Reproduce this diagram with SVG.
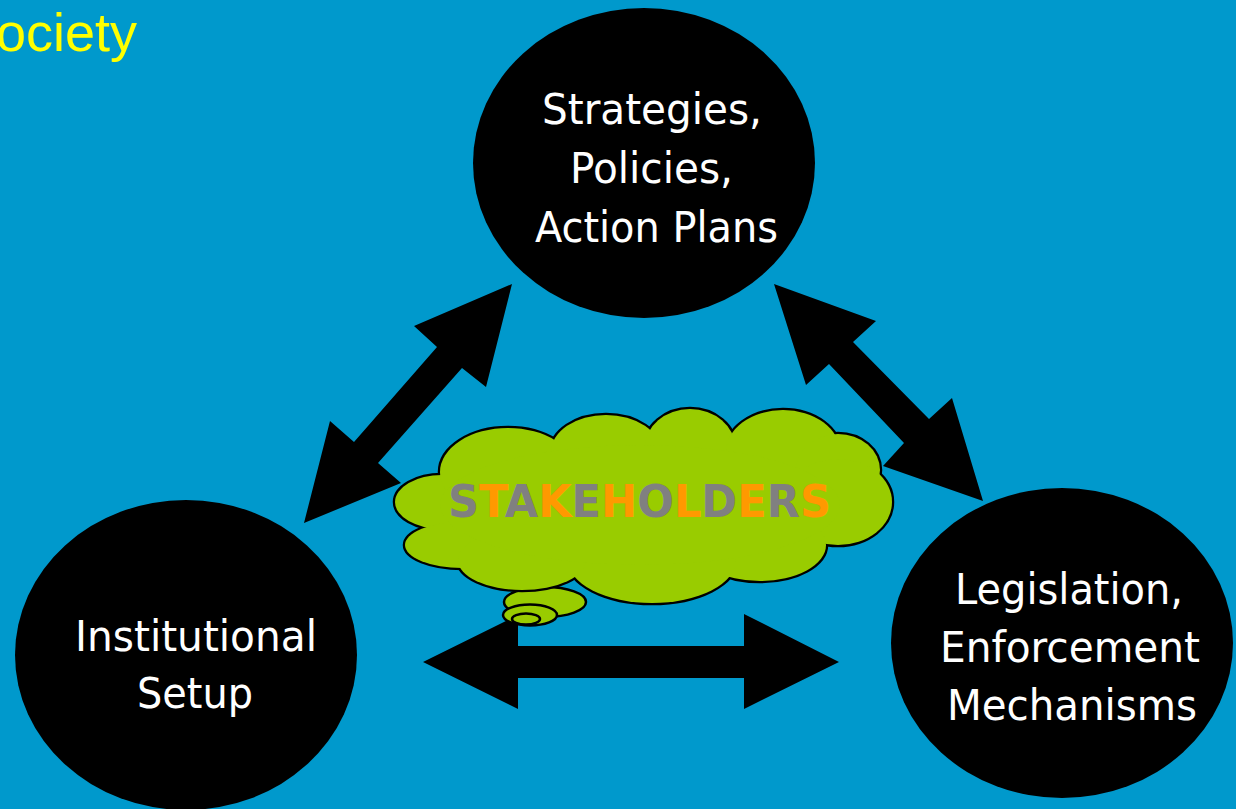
<svg xmlns="http://www.w3.org/2000/svg" xmlns:xlink="http://www.w3.org/1999/xlink" width="1236" height="809" viewBox="0 0 1236 809">
<style>
.bg{fill:#0099cc}
.arrow{fill:#000}
.node{fill:#000}
.lbl{fill:#fff;font-family:"DejaVu Sans Condensed","DejaVu Sans",sans-serif;font-stretch:condensed;font-size:43px}
.title{fill:#ffff00;font-family:"Liberation Sans",Arial,sans-serif;font-size:54px}
.cloudS{fill:#99cc00;stroke:#000;stroke-width:4.5}
.cloudF{fill:#99cc00;stroke:none}
.bub{fill:#99cc00;stroke:#000;stroke-width:2.5}
.stk{font-family:"DejaVu Sans Condensed","DejaVu Sans",sans-serif;font-stretch:condensed;font-weight:bold;font-size:45px}
.g{fill:#808080}.o{fill:#ff9900}
</style>
<defs>
<g id="lobes">
<ellipse cx="442" cy="502" rx="47" ry="27"/>
<ellipse cx="462" cy="545" rx="57" ry="23"/>
<ellipse cx="508" cy="472" rx="68" ry="44"/>
<ellipse cx="606" cy="452" rx="55" ry="37"/>
<ellipse cx="690" cy="447" rx="45" ry="38"/>
<ellipse cx="783" cy="452" rx="57" ry="42"/>
<ellipse cx="838" cy="470" rx="42" ry="36"/>
<ellipse cx="838" cy="502" rx="54" ry="43"/>
<ellipse cx="760" cy="545" rx="66" ry="36"/>
<ellipse cx="652" cy="560" rx="84" ry="43"/>
<ellipse cx="522" cy="560" rx="64" ry="30"/>
<ellipse cx="640" cy="505" rx="200" ry="60"/>
</g>
</defs>
<rect class="bg" x="0" y="0" width="1236" height="809"/>
<text class="title" x="-4" y="51">ociety</text>
<g id="connectors">
<polygon class="arrow" points="512,284 486,387 462,368 378,463 401,483 304,523 330,421 354,442 437,347 414,326"/>
<polygon class="arrow" points="774,284 876,321 853,342 929,419 952,398 983,501 883,466 904,443 829,364 806,385"/>
<polygon class="arrow" points="423,662 518,615 518,646 744,646 744,614 839,662 744,709 744,678 518,678 518,709"/>
</g>
<g id="node-strategies">
<ellipse class="node" cx="644" cy="163" rx="171" ry="155"/>
<text class="lbl" x="542" y="124" textLength="220" lengthAdjust="spacingAndGlyphs">Strategies,</text>
<text class="lbl" x="570" y="183" textLength="163" lengthAdjust="spacingAndGlyphs">Policies,</text>
<text class="lbl" x="535" y="242" textLength="243" lengthAdjust="spacingAndGlyphs">Action Plans</text>
</g>
<g id="node-institutional">
<ellipse class="node" cx="186" cy="655" rx="171" ry="155"/>
<text class="lbl" x="75" y="651" textLength="242" lengthAdjust="spacingAndGlyphs">Institutional</text>
<text class="lbl" x="137" y="708" textLength="116" lengthAdjust="spacingAndGlyphs">Setup</text>
</g>
<g id="node-legislation">
<ellipse class="node" cx="1062" cy="643" rx="171" ry="155"/>
<text class="lbl" x="955" y="604" textLength="228" lengthAdjust="spacingAndGlyphs">Legislation,</text>
<text class="lbl" x="940" y="662" textLength="260" lengthAdjust="spacingAndGlyphs">Enforcement</text>
<text class="lbl" x="947" y="720" textLength="250" lengthAdjust="spacingAndGlyphs">Mechanisms</text>
</g>
<g id="node-stakeholders">
<ellipse class="bub" cx="545" cy="602" rx="41" ry="15"/>
<ellipse class="bub" cx="530" cy="615" rx="27" ry="10.5"/>
<ellipse class="bub" cx="526" cy="619" rx="14" ry="5.5"/>
<use xlink:href="#lobes" class="cloudS"/>
<use xlink:href="#lobes" class="cloudF"/>
<text class="stk" x="448" y="517" textLength="383" lengthAdjust="spacingAndGlyphs"><tspan class="g">S</tspan><tspan class="o">T</tspan><tspan class="g">A</tspan><tspan class="o">K</tspan><tspan class="g">E</tspan><tspan class="o">H</tspan><tspan class="g">O</tspan><tspan class="o">L</tspan><tspan class="g">D</tspan><tspan class="o">E</tspan><tspan class="g">R</tspan><tspan class="o">S</tspan></text>
</g>
</svg>
